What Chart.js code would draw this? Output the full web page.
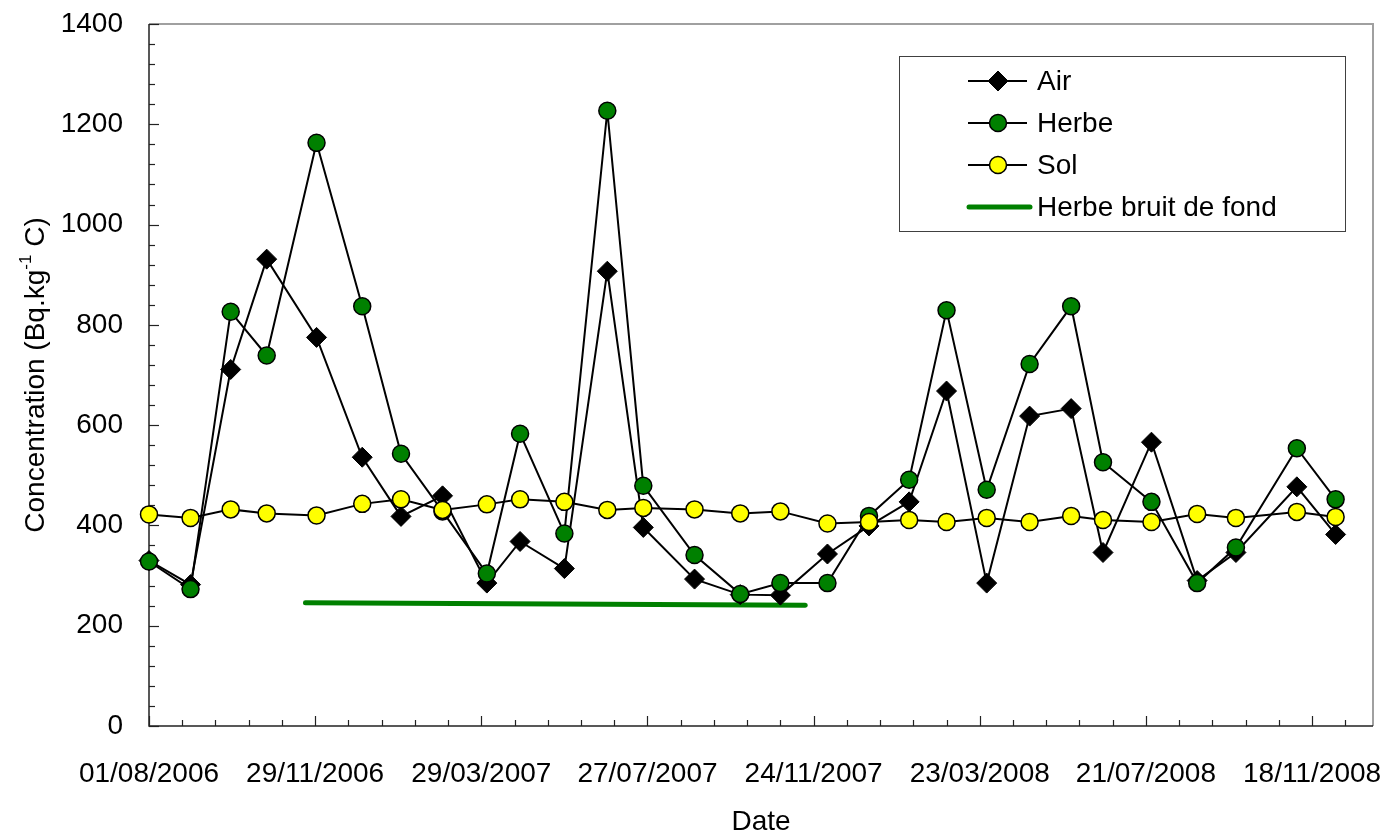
<!DOCTYPE html>
<html><head><meta charset="utf-8">
<script src="https://cdn.jsdelivr.net/npm/chart.js@4.4.0/dist/chart.umd.min.js"></script>
<style>html,body{margin:0;padding:0;background:#fff;}#wrap{width:1388px;height:833px;}</style>
</head><body><div id="wrap"><canvas id="c" width="1388" height="833"></canvas></div>
<script>
// ---- data ----
const sampleDates = ['01/08/2006','31/08/2006','29/09/2006','25/10/2006','30/11/2006','02/01/2007','30/01/2007','01/03/2007','02/04/2007','26/04/2007','28/05/2007','28/06/2007','24/07/2007','30/08/2007','02/10/2007','31/10/2007','04/12/2007','03/01/2008','01/02/2008','28/02/2008','28/03/2008','28/04/2008','28/05/2008','20/06/2008','25/07/2008','27/08/2008','24/09/2008','07/11/2008','05/12/2008'];
const airValues   = [330, 282, 711, 931, 775, 536, 418, 459, 285, 368, 314, 907, 396, 293, 262, 261, 343, 399, 447, 668, 285, 618, 633, 346, 566, 290, 346, 477, 382];
const herbeValues = [328, 273, 826, 739, 1163, 837, 543, 428, 304, 583, 384, 1227, 479, 341, 263, 285, 285, 419, 491, 829, 471, 722, 837, 526, 447, 285, 356, 554, 452];
const solValues   = [422, 415, 432, 424, 420, 443, 452, 431, 442, 452, 447, 431, 435, 432, 424, 428, 404, 407, 411, 407, 415, 407, 419, 411, 407, 423, 415, 427, 417];
const backgroundDates  = ['22/11/2006', '18/11/2007'];
const backgroundValues = [246, 241];
const axisStartDate = '01/08/2006';
const axisEndDate   = '01/01/2009';
const xMajorDays = 120, xMinorDays = 24;
const yMax = 1400, yMajor = 200, yMinor = 40;
const seriesLabels = ['Air', 'Herbe', 'Sol', 'Herbe bruit de fond'];

// ---- helpers ----
function toUTC(s){const [d,m,y]=s.split('/').map(Number);return Date.UTC(y,m-1,d);}
const BASE = toUTC(axisStartDate);
function dayIndex(s){return Math.round((toUTC(s)-BASE)/86400000);}
function fmtDay(v){const dt=new Date(BASE+v*86400000);const p=n=>String(n).padStart(2,'0');return p(dt.getUTCDate())+'/'+p(dt.getUTCMonth()+1)+'/'+dt.getUTCFullYear();}
const xs = sampleDates.map(dayIndex);
const pts = vals => vals.map((v,i)=>({x:xs[i],y:v}));
const FONT = "'Liberation Sans', Arial, sans-serif";
const FS = 28;

const decor = {
  id:'decor',
  beforeDatasetsDraw(chart){
    const {ctx, chartArea:a, scales:{x,y}} = chart;
    ctx.save();
    ctx.strokeStyle='#a0a0a0'; ctx.lineWidth=2;
    ctx.beginPath(); ctx.moveTo(a.left,a.top); ctx.lineTo(a.right,a.top); ctx.lineTo(a.right,a.bottom); ctx.stroke();
    ctx.strokeStyle='#222'; ctx.lineWidth=1.5;
    ctx.beginPath(); ctx.moveTo(a.left,a.top); ctx.lineTo(a.left,a.bottom); ctx.lineTo(a.right,a.bottom); ctx.stroke();
    ctx.lineWidth=1.2;
    for(let v=0; v<=yMax; v+=yMinor){
      const py=Math.round(y.getPixelForValue(v))+0.5; const L=(v%yMajor===0)?10:6;
      ctx.beginPath(); ctx.moveTo(a.left,py); ctx.lineTo(a.left+L,py); ctx.stroke();
    }
    const xmax = dayIndex(axisEndDate);
    for(let v=0; v<=xmax; v+=xMinorDays){
      const px=Math.round(x.getPixelForValue(v))+0.5; const L=(v%xMajorDays===0)?10:6;
      ctx.beginPath(); ctx.moveTo(px,a.bottom); ctx.lineTo(px,a.bottom-L); ctx.stroke();
    }
    ctx.restore();
  },
  afterDraw(chart){
    const {ctx, chartArea:a} = chart;
    ctx.save();
    ctx.fillStyle='#000';
    ctx.font=FS+'px '+FONT; ctx.textAlign='center'; ctx.textBaseline='middle';
    ctx.fillText('Date',(a.left+a.right)/2,822);
    ctx.translate(36,(a.top+a.bottom)/2); ctx.rotate(-Math.PI/2);
    const p1='Concentration (Bq.kg', sup='-1', p2=' C)';
    ctx.font=FS+'px '+FONT; const w1=ctx.measureText(p1).width, w3=ctx.measureText(p2).width;
    ctx.font='17px '+FONT; const w2=ctx.measureText(sup).width;
    let sx=-(w1+w2+w3)/2; ctx.textAlign='left';
    ctx.font=FS+'px '+FONT; ctx.fillText(p1,sx,0); sx+=w1;
    ctx.font='17px '+FONT; ctx.fillText(sup,sx,-10); sx+=w2;
    ctx.font=FS+'px '+FONT; ctx.fillText(p2,sx,0);
    ctx.restore();
    ctx.save();
    ctx.strokeStyle='#404040'; ctx.lineWidth=1;
    ctx.strokeRect(899.5,56.5,446,175);
    const ds = chart.data.datasets;
    ctx.font=FS+'px '+FONT; ctx.textBaseline='middle'; ctx.textAlign='left';
    seriesLabels.forEach((lab,i)=>{
      const d = ds[i]; const cy = 81 + i*42;
      ctx.beginPath();
      if(i<3){
        ctx.strokeStyle=d.borderColor; ctx.lineWidth=d.borderWidth; ctx.lineCap='butt';
        ctx.moveTo(968,cy); ctx.lineTo(1027,cy); ctx.stroke();
        const r=d.pointRadius; ctx.beginPath();
        if(d.pointStyle==='rectRot'){ctx.moveTo(998-r,cy);ctx.lineTo(998,cy-r);ctx.lineTo(998+r,cy);ctx.lineTo(998,cy+r);ctx.closePath();}
        else ctx.arc(998,cy,r,0,Math.PI*2);
        ctx.fillStyle=d.pointBackgroundColor; ctx.fill();
        ctx.strokeStyle=d.pointBorderColor; ctx.lineWidth=d.pointBorderWidth; ctx.stroke();
      } else {
        ctx.strokeStyle=d.borderColor; ctx.lineWidth=d.borderWidth; ctx.lineCap='round';
        ctx.moveTo(969,cy); ctx.lineTo(1030,cy); ctx.stroke();
      }
      ctx.fillStyle='#000'; ctx.fillText(lab,1037,cy+1);
    });
    ctx.restore();
  }
};

new Chart(document.getElementById('c'), {
  type:'line',
  data:{datasets:[
    {label:seriesLabels[0], data:pts(airValues), order:2, borderColor:'#000', borderWidth:2, pointStyle:'rectRot', pointRadius:10, pointBackgroundColor:'#000', pointBorderColor:'#000', pointBorderWidth:1, clip:false, tension:0},
    {label:seriesLabels[1], data:pts(herbeValues), order:1, borderColor:'#000', borderWidth:2, pointStyle:'circle', pointRadius:8.5, pointBackgroundColor:'#008000', pointBorderColor:'#000', pointBorderWidth:1.5, clip:false, tension:0},
    {label:seriesLabels[2], data:pts(solValues), order:0, borderColor:'#000', borderWidth:2, pointStyle:'circle', pointRadius:8.5, pointBackgroundColor:'#ffff00', pointBorderColor:'#000', pointBorderWidth:1.5, clip:false, tension:0},
    {label:seriesLabels[3], data:backgroundDates.map((d,i)=>({x:dayIndex(d),y:backgroundValues[i]})), order:3, borderColor:'#008000', borderWidth:5, borderCapStyle:'round', pointRadius:0, clip:false, tension:0}
  ]},
  options:{
    responsive:false, animation:false, devicePixelRatio:1,
    layout:{padding:{top:24,right:15,left:0,bottom:0}},
    plugins:{legend:{display:false}, tooltip:{enabled:false}},
    scales:{
      x:{type:'linear', min:0, max:dayIndex(axisEndDate),
        afterFit:s=>{s.height=107; s.paddingLeft=0; s.paddingRight=0;},
        grid:{display:false, drawTicks:false}, border:{display:false},
        ticks:{stepSize:xMajorDays, includeBounds:false, autoSkip:false, maxRotation:0, minRotation:0, padding:31, color:'#000', font:{family:FONT,size:FS}, callback:v=>fmtDay(v)}},
      y:{type:'linear', min:0, max:yMax,
        afterFit:s=>{s.width=149; s.paddingTop=0; s.paddingBottom=0;},
        grid:{display:false, drawTicks:false}, border:{display:false},
        ticks:{stepSize:yMajor, padding:26, color:'#000', font:{family:FONT,size:FS}, callback:v=>String(v)}}
    }
  },
  plugins:[decor]
});
</script></body></html>
